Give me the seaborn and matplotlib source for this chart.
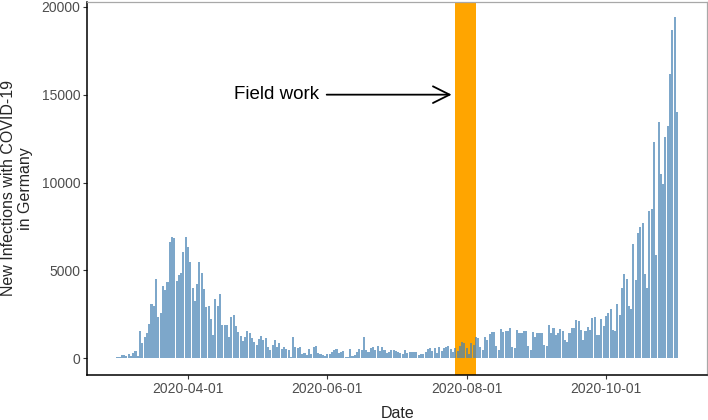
import numpy as np
import pandas as pd
import seaborn as sns
import matplotlib.pyplot as plt
import matplotlib.dates as mdates

# daily new infections, 2020-03-01 .. 2020-11-01
start_date = "2020-03-01"
mar_apr = [50, 100, 200, 190, 110, 230, 110, 300, 440, 130,
           1575, 890, 1200, 1460, 1950, 3070, 2980, 4540, 2350, 2580,
           4140, 3890, 4330, 6620, 6930, 6850, 4380, 4760, 4880, 6050,
           6890, 6340, 5480, 4020, 3240, 4250, 5480, 4880, 3970, 2900,
           2980, 2220, 1310, 3360, 2960, 3660, 1920, 1880, 1880, 1210,
           2330, 2490, 1860, 1500, 1270, 970, 1200, 1570, 1440]
may = [1180, 930, 740, 1120, 1250, 1060, 1180, 650, 490, 780,
       1060, 650, 870, 550, 650, 550, 490, 80, 1210, 650,
       600, 650, 270, 320, 210, 550, 270, 650, 700, 300]
jun_jul = [250, 190, 130, 250, 250, 380, 470, 530, 320, 380,
           420, 60, 100, 530, 150, 190, 340, 550, 470, 1200,
           470, 380, 570, 630, 470, 700, 440, 660, 470, 280,
           340, 470, 470, 440, 380, 280, 250, 470, 280, 380,
           380, 340, 380, 190, 250, 250, 380, 510, 570, 440,
           570, 320, 630, 440, 570, 660, 720, 510, 380, 600]
field = [400, 700, 950, 870, 600, 250, 870, 750]
aug_sep = [1230, 1140, 660, 470, 1230, 1040, 1390, 1480, 1520, 700,
           470, 1650, 1520, 1570, 1570, 1710, 660, 570, 1610, 1460,
           1420, 1550, 1550, 700, 470, 1520, 1230, 1420, 1420, 1420,
           760, 700, 1900, 1460, 1710]
sep_oct = [1310, 1440, 1690, 1540, 1060, 930, 1460, 1750, 1700, 2160,
           2100, 1630, 1020, 1560, 1800, 1600, 2280, 2330, 1310, 1310,
           2240, 1820, 2400, 2600, 2800, 1630, 1540, 3070, 2450, 4000,
           4800, 4500, 2950, 2800, 6500, 4450, 7150, 7500, 7700, 4800,
           4000, 8400, 8500, 12300, 5900, 13450, 10500, 9900, 12600, 13200,
           16200, 18700, 19400, 14000]

cases = mar_apr + may + jun_jul + field + aug_sep + sep_oct
dates = pd.date_range(start_date, periods=len(cases), freq="D")
df = pd.DataFrame({"date": dates, "cases": cases})
df["x"] = mdates.date2num(df["date"])

field_work = ("2020-07-27", "2020-08-05")
tick_dates = ["2020-04-01", "2020-06-01", "2020-08-01", "2020-10-01"]

sns.set_theme(style="ticks")
plt.rcParams["font.family"] = ["Liberation Sans", "DejaVu Sans"]

fig = plt.figure(figsize=(7.08, 4.2), dpi=100)
ax = fig.add_axes([87.3 / 708, 1 - 375.3 / 420, (707 - 87.3) / 708, (375.3 - 1.5) / 420])

base = mdates.date2num(pd.Timestamp(start_date))
ax.axvspan(mdates.date2num(pd.Timestamp(field_work[0])) - 0.3,
           mdates.date2num(pd.Timestamp(field_work[1])) + 0.1,
           color="orange", lw=0, zorder=1)

sns.barplot(data=df, x="x", y="cases", native_scale=True, width=0.9,
            color="steelblue", saturation=1, alpha=0.7, linewidth=0,
            errorbar=None, ax=ax, zorder=2)

ax.annotate("", xy=(base + 146.4, 15000), xytext=(base + 91.7, 15000),
            arrowprops=dict(arrowstyle="->", color="black", lw=1.3,
                            mutation_scale=30, shrinkA=0, shrinkB=0))
ax.text(base + 88.3, 15000, "Field work", ha="right", va="center",
        fontsize=13.5, color="black")

ax.set_xlim(base - 13.1, base + 258.2)
ax.set_ylim(-965, 20300)
ax.set_xticks(mdates.date2num(pd.to_datetime(tick_dates)))
ax.xaxis.set_major_formatter(mdates.DateFormatter("%Y-%m-%d"))
ax.set_yticks([0, 5000, 10000, 15000, 20000])

ax.tick_params(axis="both", labelsize=10, labelcolor="#4D4D4D",
               color="#333333", length=3, width=0.8, pad=2)
ax.set_xlabel("Date", fontsize=11.5, va="center")
ax.xaxis.set_label_coords(0.5, -(413 - 375.3) / 373.8)
ax.set_ylabel("New Infections with COVID-19\nin Germany", fontsize=11.5,
              linespacing=1.1, va="center")
ax.yaxis.set_label_coords(-(87.3 - 17) / 619.7, 0.5)

for side in ["left", "bottom"]:
    ax.spines[side].set_color("black")
    ax.spines[side].set_linewidth(1.1)
for side in ["top", "right"]:
    ax.spines[side].set_color("#A8A8A8")
    ax.spines[side].set_linewidth(0.9)

fig.savefig("out.png", dpi=100)
